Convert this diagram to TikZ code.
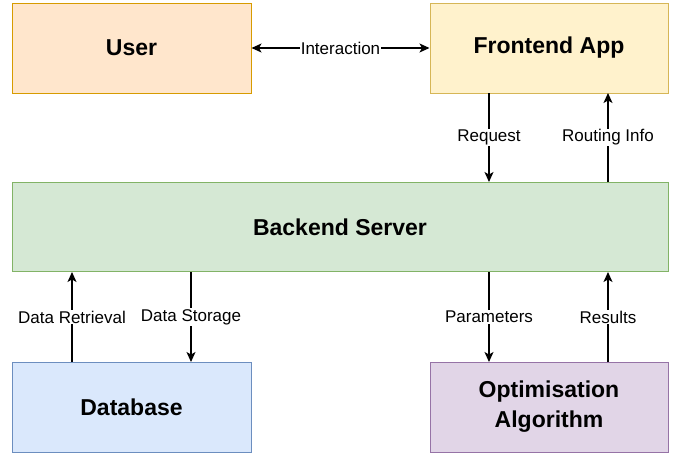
\documentclass[tikz,border=0pt]{standalone}
\usepackage{fontspec}
\setmainfont{Liberation Sans}
\usetikzlibrary{arrows.meta}
\definecolor{userfill}{HTML}{FFE6CC}\definecolor{userdraw}{HTML}{D79B00}
\definecolor{fefill}{HTML}{FFF2CC}\definecolor{fedraw}{HTML}{D6B656}
\definecolor{befill}{HTML}{D5E8D4}\definecolor{bedraw}{HTML}{82B366}
\definecolor{dbfill}{HTML}{DAE8FC}\definecolor{dbdraw}{HTML}{6C8EBF}
\definecolor{opfill}{HTML}{E1D5E7}\definecolor{opdraw}{HTML}{9673A6}
\tikzset{
  tip/.tip={Stealth[length=10pt,width=9pt,inset=2.5pt]},
  box/.style={draw, line width=1pt, inner sep=0pt, align=center,
    font=\fontsize{23}{30}\selectfont\bfseries},
  conn/.style={line width=1.2pt, -tip},
  lbl/.style={fill=white, inner sep=1pt, font=\fontsize{17}{20}\selectfont}
}
\begin{document}
\begin{tikzpicture}[x=1pt,y=-1pt]
\useasboundingbox (0,0) rectangle (673,455);
\node[box, fill=userfill, draw=userdraw, minimum width=239pt, minimum height=90pt] (user) at (131.5,48) {User};
\node[box, fill=fefill, draw=fedraw, minimum width=238pt, minimum height=90pt] (fe) at (549,48) {Frontend App};
\node[box, fill=befill, draw=bedraw, minimum width=656pt, minimum height=89pt] (be) at (340,227) {Backend Server};
\node[box, fill=dbfill, draw=dbdraw, minimum width=239pt, minimum height=90pt] (db) at (131.5,407) {Database};
\node[box, fill=opfill, draw=opdraw, minimum width=238pt, minimum height=90pt] (op) at (549,407) {Optimisation\\Algorithm};
% Interaction
\draw[conn, tip-tip] (user.east) -- node[lbl]{Interaction} (fe.west);
% Request / Routing
\coordinate (feA) at (489,93);
\coordinate (beA) at (489,182);
\coordinate (feB) at (608,93);
\coordinate (beB) at (608,182);
\draw[conn] (feA) -- node[lbl]{Request} (beA);
\draw[conn] (beB) -- node[lbl]{Routing Info} (feB);
% Database
\coordinate (dbA) at (72,362);
\coordinate (beC) at (72,272);
\coordinate (dbB) at (191,362);
\coordinate (beD) at (191,272);
\draw[conn] (dbA) -- node[lbl]{Data Retrieval} (beC);
\draw[conn] (beD) -- node[lbl]{Data Storage} (dbB);
% Optimisation
\coordinate (opA) at (489,362);
\coordinate (beE) at (489,272);
\coordinate (opB) at (608,362);
\coordinate (beF) at (608,272);
\draw[conn] (beE) -- node[lbl]{Parameters} (opA);
\draw[conn] (opB) -- node[lbl]{Results} (beF);
\end{tikzpicture}
\end{document}
